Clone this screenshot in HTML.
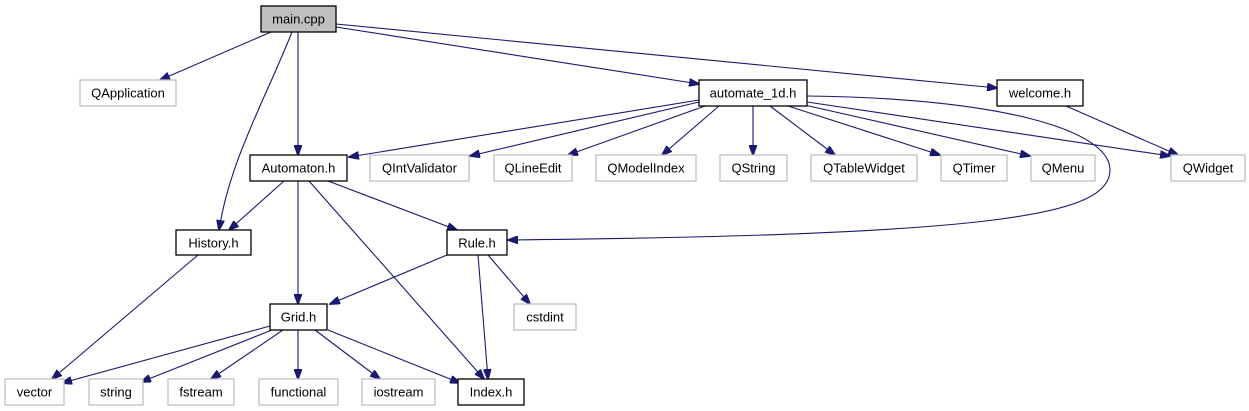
<!DOCTYPE html>
<html><head><meta charset="utf-8"><style>
html,body{margin:0;padding:0;background:#fff;}
svg{display:block;}
text{font-family:"Liberation Sans",sans-serif;font-size:13px;fill:#000;text-anchor:middle;}
.b{fill:#fff;stroke:#000;stroke-width:1.3;}
.g{fill:#fff;stroke:#bfbfbf;stroke-width:1.3;}
.e{fill:none;stroke:#191970;stroke-width:1.1;marker-end:url(#a);}
</style></head><body>
<svg width="1249" height="411" viewBox="0 0 1249 411">
<defs><marker id="a" markerWidth="11" markerHeight="8" refX="10" refY="4" orient="auto" markerUnits="userSpaceOnUse"><path d="M0,0 L11,4 L0,8 z" fill="#191970" stroke="#191970"/></marker></defs>
<path class="e" d="M271,32 L160,80"/>
<path class="e" d="M292,32 C265,100 230,160 219,230"/>
<path class="e" d="M298,32 L298,155"/>
<path class="e" d="M336,27 L699,84"/>
<path class="e" d="M336,24 L997,88"/>
<path class="e" d="M699,100 L349,157"/>
<path class="e" d="M699,102 L470,156"/>
<path class="e" d="M705,106 L568,155"/>
<path class="e" d="M719,106 L662,155"/>
<path class="e" d="M753,106 L753,155"/>
<path class="e" d="M770,106 L835,155"/>
<path class="e" d="M788,106 L940,155"/>
<path class="e" d="M800,104 L1030,156"/>
<path class="e" d="M807,102 L1170,156"/>
<path class="e" d="M807,96 C1000,98 1110,130 1110,170 C1110,215 1000,235 508,240"/>
<path class="e" d="M1066,106 L1178,155"/>
<path class="e" d="M284,181 L229,230"/>
<path class="e" d="M298,181 L298,304"/>
<path class="e" d="M309,181 L484,379"/>
<path class="e" d="M328,181 L457,230"/>
<path class="e" d="M447,255 L330,304"/>
<path class="e" d="M478,255 L488,379"/>
<path class="e" d="M488,255 L530,304"/>
<path class="e" d="M198,255 L52,379"/>
<path class="e" d="M270,326 L62,383"/>
<path class="e" d="M272,330 L141,382"/>
<path class="e" d="M283,330 L211,379"/>
<path class="e" d="M298,330 L298,379"/>
<path class="e" d="M315,330 L380,379"/>
<path class="e" d="M328,330 L460,383"/>
<rect x="261" y="6" width="75" height="26" fill="#bfbfbf" stroke="#000" stroke-width="1.3"/><text x="298.5" y="23.5">main.cpp</text>
<rect class="g" x="80" y="80" width="96" height="26"/><text x="128" y="97.5">QApplication</text>
<rect class="b" x="699" y="80" width="108" height="26"/><text x="753" y="97.5">automate_1d.h</text>
<rect class="b" x="997" y="80" width="86" height="26"/><text x="1040" y="97.5">welcome.h</text>
<rect class="b" x="250" y="155" width="97" height="26"/><text x="298.5" y="172.5">Automaton.h</text>
<rect class="g" x="370" y="155" width="99" height="26"/><text x="419.5" y="172.5">QIntValidator</text>
<rect class="g" x="494" y="155" width="78" height="26"/><text x="533" y="172.5">QLineEdit</text>
<rect class="g" x="596" y="155" width="100" height="26"/><text x="646" y="172.5">QModelIndex</text>
<rect class="g" x="720" y="155" width="67" height="26"/><text x="753.5" y="172.5">QString</text>
<rect class="g" x="811" y="155" width="106" height="26"/><text x="864" y="172.5">QTableWidget</text>
<rect class="g" x="941" y="155" width="66" height="26"/><text x="974" y="172.5">QTimer</text>
<rect class="g" x="1031" y="155" width="64" height="26"/><text x="1063" y="172.5">QMenu</text>
<rect class="g" x="1171" y="155" width="74" height="26"/><text x="1208" y="172.5">QWidget</text>
<rect class="b" x="176" y="230" width="75" height="25"/><text x="213.5" y="247.5">History.h</text>
<rect class="b" x="447" y="230" width="60" height="25"/><text x="477" y="247.5">Rule.h</text>
<rect class="b" x="270" y="304" width="57" height="26"/><text x="298.5" y="321.5">Grid.h</text>
<rect class="g" x="514" y="304" width="62" height="26"/><text x="545" y="321.5">cstdint</text>
<rect class="g" x="5" y="379" width="59" height="26"/><text x="34.5" y="396.5">vector</text>
<rect class="g" x="89" y="379" width="54" height="26"/><text x="116" y="396.5">string</text>
<rect class="g" x="168" y="379" width="66" height="26"/><text x="201" y="396.5">fstream</text>
<rect class="g" x="259" y="379" width="79" height="26"/><text x="298.5" y="396.5">functional</text>
<rect class="g" x="362" y="379" width="73" height="26"/><text x="398.5" y="396.5">iostream</text>
<rect class="b" x="458" y="379" width="66" height="26"/><text x="491" y="396.5">Index.h</text>
</svg>
</body></html>
